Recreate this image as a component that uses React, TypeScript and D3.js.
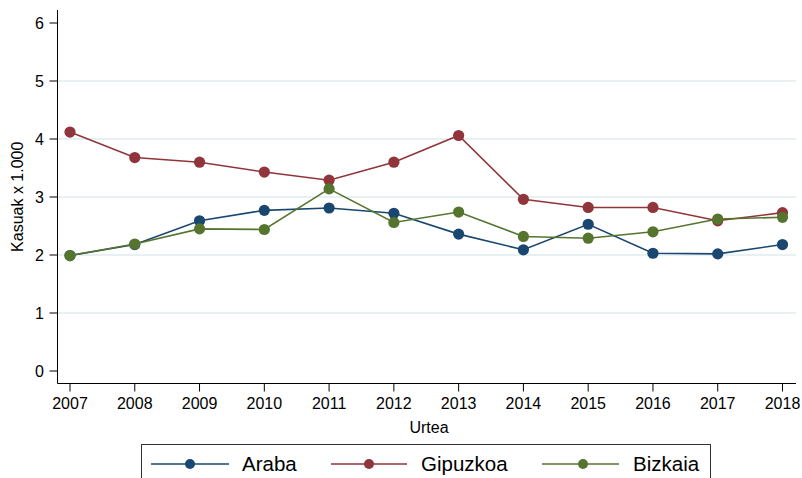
import React from 'react';
import * as d3 from 'd3';

const years = [2007, 2008, 2009, 2010, 2011, 2012, 2013, 2014, 2015, 2016, 2017, 2018];
const araba = [1.99, 2.18, 2.59, 2.77, 2.81, 2.72, 2.36, 2.09, 2.53, 2.03, 2.02, 2.18];
const gipuzkoa = [4.12, 3.68, 3.6, 3.43, 3.29, 3.6, 4.06, 2.96, 2.82, 2.82, 2.59, 2.73];
const bizkaia = [1.99, 2.19, 2.45, 2.44, 3.14, 2.56, 2.74, 2.32, 2.29, 2.4, 2.62, 2.65];
const yTicks = [0, 1, 2, 3, 4, 5, 6];

const seriesNames = ['Araba', 'Gipuzkoa', 'Bizkaia'];
const seriesValues = [araba, gipuzkoa, bizkaia];
const seriesColors = ['#1a476f', '#90353b', '#55752f'];

const W = 802;
const H = 478;
const font = "'Liberation Sans', Arial, Helvetica, sans-serif";

export default function App() {
    const x = d3.scaleLinear().domain([2007, 2018]).range([70, 782.5]);
    const y = d3.scaleLinear().domain([0, 6]).range([371, 23]);
    const axisLeft = 57.5;
    const axisBottom = 383.5;
    const axisRight = 796;
    const axisTop = 10;

    const line = d3
        .line<number>()
        .x((d, i) => x(years[i]))
        .y((d) => y(d));

    // legend layout
    const legendItems = [
        { x1: 151, x2: 229, mx: 190, tx: 242 },
        { x1: 331, x2: 407, mx: 369, tx: 421 },
        { x1: 542, x2: 619, mx: 583, tx: 633 },
    ];
    const legendY = 464;

    return (
        <svg
            width={W}
            height={H}
            style={{ position: 'absolute', left: 0, top: 0, background: '#fff' }}
            fontFamily={font}
        >
            <rect x={0} y={0} width={W} height={H} fill="#fff" />

            {/* grid lines */}
            {yTicks
                .filter((t) => t > 0 && t < 6)
                .map((t) => (
                    <line
                        key={'g' + t}
                        x1={axisLeft}
                        x2={axisRight}
                        y1={y(t)}
                        y2={y(t)}
                        stroke="#e1eded"
                        strokeWidth={1.3}
                    />
                ))}

            {/* y axis */}
            <line x1={axisLeft} x2={axisLeft} y1={axisTop} y2={axisBottom} stroke="#000" strokeWidth={1} />
            {yTicks.map((t) => (
                <g key={'y' + t}>
                    <line x1={axisLeft - 8} x2={axisLeft} y1={y(t)} y2={y(t)} stroke="#000" />
                    <text x={44} y={y(t)} dy="0.36em" textAnchor="end" fontSize={16} fill="#000">
                        {t}
                    </text>
                </g>
            ))}
            <text
                transform={`translate(23,${(axisTop + axisBottom) / 2}) rotate(-90)`}
                textAnchor="middle"
                fontSize={16}
                fill="#000"
            >
                Kasuak x 1.000
            </text>

            {/* x axis */}
            <line x1={axisLeft} x2={axisRight} y1={axisBottom} y2={axisBottom} stroke="#000" strokeWidth={1} />
            {years.map((yr) => (
                <g key={'x' + yr}>
                    <line x1={x(yr)} x2={x(yr)} y1={axisBottom} y2={axisBottom + 8} stroke="#000" />
                    <text x={x(yr)} y={409} textAnchor="middle" fontSize={16} fill="#000">
                        {yr}
                    </text>
                </g>
            ))}
            <text x={429} y={433} textAnchor="middle" fontSize={16} fill="#000">
                Urtea
            </text>

            {/* series */}
            {seriesValues.map((vals, si) => (
                <g key={'s' + si}>
                    <path d={line(vals) || ''} fill="none" stroke={seriesColors[si]} strokeWidth={1.6} />
                    {vals.map((v, i) => (
                        <circle key={i} cx={x(years[i])} cy={y(v)} r={5.6} fill={seriesColors[si]} />
                    ))}
                </g>
            ))}

            {/* legend */}
            <rect x={141.5} y={444.5} width={569} height={60} fill="#fff" stroke="#333" strokeWidth={1} />
            {legendItems.map((it, i) => (
                <g key={'l' + i}>
                    <line x1={it.x1} x2={it.x2} y1={legendY} y2={legendY} stroke={seriesColors[i]} strokeWidth={1.6} />
                    <circle cx={it.mx} cy={legendY} r={5} fill={seriesColors[i]} />
                    <text x={it.tx} y={471} fontSize={20.5} fill="#000">
                        {seriesNames[i]}
                    </text>
                </g>
            ))}
        </svg>
    );
}
